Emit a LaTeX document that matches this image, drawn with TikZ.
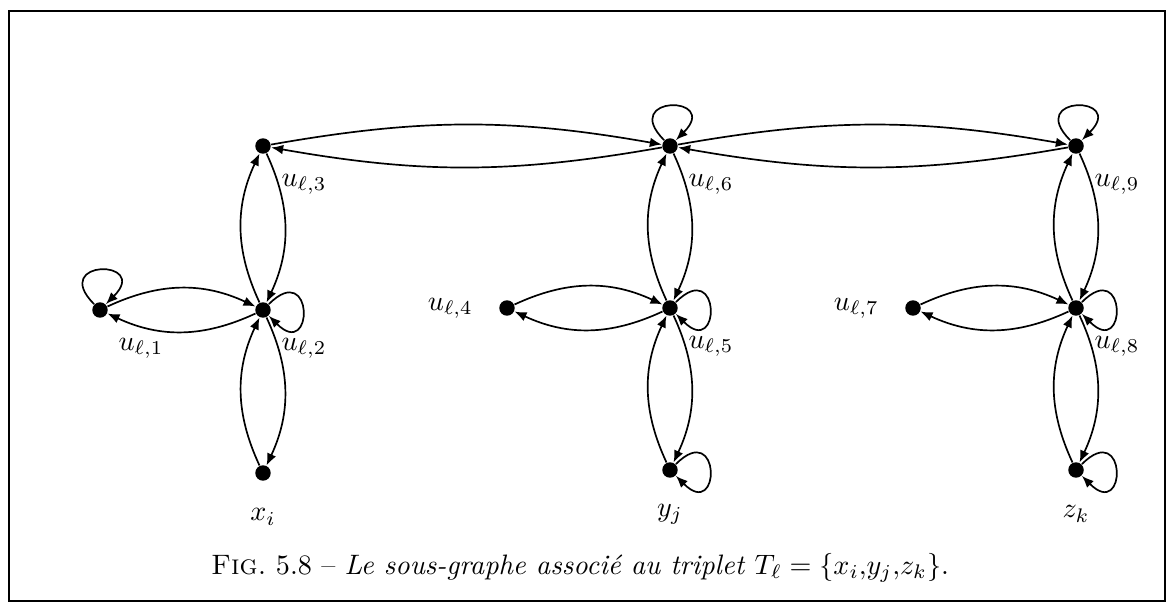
\documentclass[tikz,border=0pt]{standalone}
\usepackage{fontspec}
\usetikzlibrary{arrows.meta,positioning,calc}
\tikzset{
  vtx/.style={circle,fill=black,inner sep=0pt,minimum size=5.5pt},
  lab/.style={font=\normalsize},
  arr/.style={-{Latex[length=1.5mm,width=1.2mm]},semithick},
}
\begin{document}
\begin{tikzpicture}[x=0.0125cm,y=0.0125cm]
  \useasboundingbox (0,0) rectangle (1168,-605);
  \draw[line width=0.8pt] (9,-11) rectangle (1165,-601);
  % vertices of the gadget
  \foreach \n/\x/\y in {u1/100/310, u2/263/310, u3/263/146, u4/507/308, u5/670/308, u6/670/146, u7/913/308, u8/1076/308, u9/1076/146, xi/263/473, yj/670/470, zk/1076/470}
    \node[vtx] (\n) at (\x,-\y) {};
  \foreach \k in {1,2,3,5,6,8,9}
    \node[lab] (l\k) at ($(u\k)+(41,-38)$) {$u_{\ell,\k}$};
  \node[lab,left=2mm of u4] (l4) {$u_{\ell,4}$};
  \node[lab,left=2mm of u7] (l7) {$u_{\ell,7}$};
  \node[lab] (lxi) at ($(xi)+(0,-44)$) {$x_i$};
  \node[lab] (lyj) at ($(yj)+(0,-44)$) {$y_j$};
  \node[lab] (lzk) at ($(zk)+(0,-44)$) {$z_k$};
  % double arcs
  \foreach \a/\b/\t in {u1/u2/25, u2/u3/25, xi/u2/25, u3/u6/10, u6/u9/10, u4/u5/25, u5/u6/25, yj/u5/25, u7/u8/25, u8/u9/25, zk/u8/25}
    \draw[arr] (\a) edge[bend left=\t] (\b) (\b) edge[bend left=\t] (\a);
  % loops
  \foreach \n/\o/\i in {u1/135/45, u6/135/45, u9/135/45, u2/45/-45, u5/45/-45, yj/45/-45, u8/45/-45, zk/45/-45}
    \draw[arr] (\n) edge[loop,out=\o,in=\i,min distance=8mm] (\n);
  \node[font=\normalsize] (cap) at (580,-568) {\textsc{Fig.}~5.8 -- \textit{Le sous-graphe associé au triplet} $T_\ell=\{x_i{,}y_j{,}z_k\}$.};
\end{tikzpicture}
\end{document}
